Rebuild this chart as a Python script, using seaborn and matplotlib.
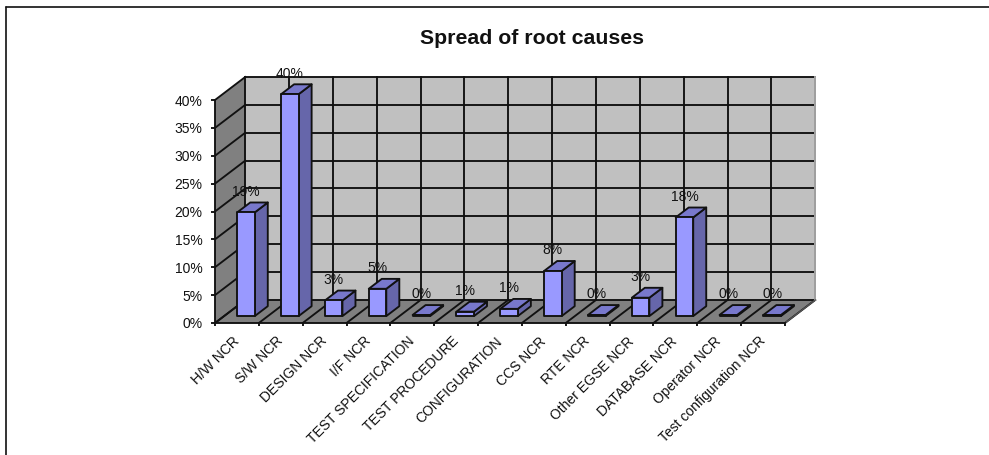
import matplotlib
matplotlib.use("Agg")
import matplotlib.pyplot as plt
from matplotlib.lines import Line2D
from matplotlib.ticker import PercentFormatter
from matplotlib.transforms import ScaledTranslation
import numpy as np
import pandas as pd
import seaborn as sns

causes = ["H/W NCR", "S/W NCR", "DESIGN NCR", "I/F NCR", "TEST SPECIFICATION",
          "TEST PROCEDURE", "CONFIGURATION", "CCS NCR", "RTE NCR", "Other EGSE NCR",
          "DATABASE NCR", "Operator NCR", "Test configuration NCR"]
shares = [18.6, 39.8, 2.8, 4.9, 0.2, 0.8, 1.3, 8.1, 0.2, 3.3, 17.7, 0.2, 0.2]
y_ticks = [0, 5, 10, 15, 20, 25, 30, 35, 40]
title = "Spread of root causes"

FIG_W, FIG_H = 989, 455
FONT = ["Liberation Sans", "DejaVu Sans"]
TEXT_SIZE = 10.0
LW = 1.35

WALL = "#c0c0c0"
SHADE = "#808080"
BAR_FRONT = "#9999ff"
BAR_TOP = "#7878cc"
BAR_SIDE = "#6666aa"
LINE = "#111111"

# Oblique projection: how far one unit of depth moves a point on the axes
DEPTH_X = 0.69   # in categories
DEPTH_Y = 4.13   # in percentage points
BAR_FRONT_DEPTH = 0.30
BAR_BACK_DEPTH = 0.73
LABEL_LIFT = 3.7


def project(x, y, depth):
    return x + depth * DEPTH_X, y + depth * DEPTH_Y


def face(ax, corners, color, zorder, edge="none", lw=0.0):
    xs, ys = zip(*[project(*c) for c in corners])
    ax.fill(xs, ys, facecolor=color, edgecolor=edge, linewidth=lw,
            zorder=zorder, clip_on=False, joinstyle="round")


def rule(ax, start, end, zorder=1.5, lw=LW, color=LINE):
    xs, ys = zip(project(*start), project(*end))
    ax.plot(xs, ys, color=color, linewidth=lw, zorder=zorder, clip_on=False,
            solid_capstyle="projecting")


sns.set_style("white")
plt.rcParams["font.family"] = FONT
plt.rcParams["font.size"] = TEXT_SIZE

fig = plt.figure(figsize=(FIG_W / 100, FIG_H / 100), dpi=100, facecolor="white")
ax = fig.add_axes([215 / FIG_W, 1 - 323 / FIG_H, 570 / FIG_W, 223 / FIG_H])
ax.patch.set_visible(False)

df = pd.DataFrame({"cause": causes, "share": shares})
sns.barplot(data=df, x="cause", y="share", order=causes, color=BAR_FRONT, saturation=1,
            width=0.4, edgecolor=LINE, linewidth=LW, ax=ax)

left, right = -0.5, len(causes) - 0.5
bottom, top = y_ticks[0], y_ticks[-1]
ax.set_xlim(left, right)
ax.set_ylim(bottom, top)

# Back wall, side wall and floor
face(ax, [(left, bottom, 1), (right, bottom, 1), (right, top, 1), (left, top, 1)], WALL, 1)
face(ax, [(left, bottom, 0), (left, bottom, 1), (left, top, 1), (left, top, 0)], SHADE, 1)
face(ax, [(left, bottom, 0), (right, bottom, 0), (right, bottom, 1), (left, bottom, 1)], SHADE, 1)

# Grid running across the walls and the floor
boundaries = np.arange(len(causes) + 1) - 0.5
for value in y_ticks:
    rule(ax, (left, value, 1), (right, value, 1))
    rule(ax, (left, value, 0), (left, value, 1))
for edge in boundaries:
    rule(ax, (edge, bottom, 1), (edge, top, 1))
    rule(ax, (edge, bottom, 0), (edge, bottom, 1))
rule(ax, (right, bottom, 1), (right, top, 1), color="#a8a8a8")
rule(ax, (right, bottom, 0), (right, bottom, 1), color="#555555", lw=1.0)

# Each bar is moved into the room, then given its top and side faces
for patch, value in zip(ax.containers[0], shares):
    x0 = patch.get_x()
    x1 = x0 + patch.get_width()
    shift_x, shift_y = project(0, 0, BAR_FRONT_DEPTH)
    patch.set_x(x0 + shift_x)
    patch.set_y(shift_y)
    patch.set_zorder(4)
    patch.set_clip_on(False)
    patch.set_joinstyle("round")
    d0, d1 = BAR_FRONT_DEPTH, BAR_BACK_DEPTH
    face(ax, [(x1, 0, d0), (x1, 0, d1), (x1, value, d1), (x1, value, d0)],
         BAR_SIDE, 3, LINE, LW)
    face(ax, [(x0, value, d0), (x1, value, d0), (x1, value, d1), (x0, value, d1)],
         BAR_TOP, 3, LINE, LW)
    label_x, label_y = project((x0 + x1) / 2, value, d0)
    ax.text(label_x, label_y + LABEL_LIFT, f"{value:.0f}%", ha="center", va="center",
            color=LINE, fontsize=TEXT_SIZE, zorder=5, clip_on=False)

sns.despine(ax=ax, top=True, right=True)
for side in ("left", "bottom"):
    ax.spines[side].set_color(LINE)
    ax.spines[side].set_linewidth(LW)
    ax.spines[side].set_zorder(2)

ax.set_xlabel("")
ax.set_ylabel("")
ax.set_yticks(y_ticks)
ax.yaxis.set_major_formatter(PercentFormatter(decimals=0))
ax.tick_params(axis="y", left=True, length=3, width=LW, color=LINE, pad=6,
               labelsize=TEXT_SIZE, labelcolor=LINE)
ax.set_xticks(boundaries, minor=True)
ax.set_xticks(np.arange(len(causes)))
ax.set_xticklabels(causes, rotation=45, ha="right", va="top", rotation_mode="anchor",
                   fontsize=TEXT_SIZE, color=LINE)
ax.tick_params(axis="x", which="major", bottom=False, length=0, pad=8)
ax.tick_params(axis="x", which="minor", bottom=True, length=2.5, width=LW, color=LINE)
nudge = ScaledTranslation(-5 / 100, 0, fig.dpi_scale_trans)
for tick_label in ax.get_xticklabels():
    tick_label.set_transform(tick_label.get_transform() + nudge)

fig.suptitle(title, x=532.5 / FIG_W, y=1 - 38.5 / FIG_H, va="center", ha="center",
             fontsize=15.3, fontweight="bold", color=LINE)

# Frame along the top and left of the sheet
fig.add_artist(Line2D([5.5 / FIG_W, 1], [1 - 6.5 / FIG_H, 1 - 6.5 / FIG_H],
                      color=LINE, linewidth=1.2, transform=fig.transFigure))
fig.add_artist(Line2D([5.5 / FIG_W, 5.5 / FIG_W], [0, 1 - 6.5 / FIG_H],
                      color=LINE, linewidth=1.2, transform=fig.transFigure))

fig.savefig("out.png", dpi=100, facecolor="white")
